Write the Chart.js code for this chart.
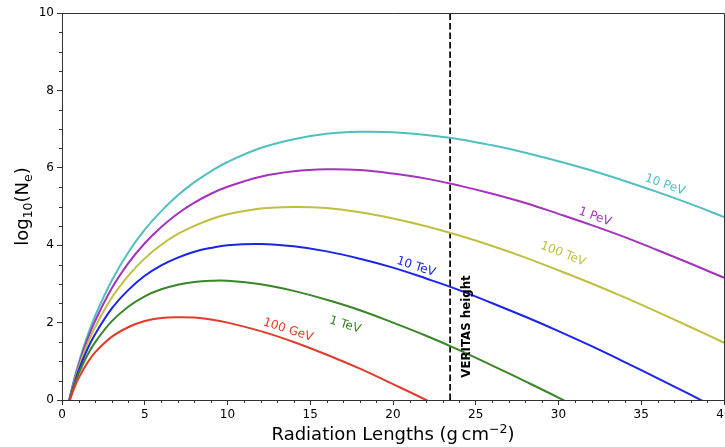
<!DOCTYPE html>
<html>
<head>
<meta charset="utf-8">
<script src="https://cdn.jsdelivr.net/npm/chart.js@4/dist/chart.umd.min.js"></script>
<style>
  html, body { margin: 0; padding: 0; background: #ffffff; }
  #wrap { width: 725px; height: 447px; }
</style>
</head>
<body>
<div id="wrap"><canvas id="c" width="725" height="447"></canvas></div>
<script>
// ---- data ----
const radiationLengths = [0.4, 0.5, 0.75, 1, 1.5, 2, 3, 4, 5, 6, 7, 8, 9, 10, 12, 14, 16, 18, 20, 22, 24, 26, 28, 30, 32, 34, 36, 38, 40];
const energyLabels = ['100 GeV', '1 TeV', '10 TeV', '100 TeV', '1 PeV', '10 PeV'];
const logNe100GeV = [-0.11, 0.03, 0.32, 0.56, 0.94, 1.23, 1.63, 1.88, 2.04, 2.12, 2.14, 2.13, 2.08, 2.00, 1.78, 1.50, 1.17, 0.81, 0.41, 0.00, -0.44, null, null, null, null, null, null, null, null];
const logNe1TeV   = [-0.10, 0.05, 0.39, 0.67, 1.13, 1.49, 2.03, 2.41, 2.68, 2.86, 2.98, 3.05, 3.08, 3.08, 2.99, 2.82, 2.59, 2.32, 2.00, 1.66, 1.29, 0.89, 0.48, 0.06, -0.38, null, null, null, null];
const logNe10TeV  = [-0.09, 0.08, 0.44, 0.76, 1.28, 1.70, 2.36, 2.84, 3.21, 3.48, 3.68, 3.83, 3.93, 4.00, 4.03, 3.97, 3.84, 3.65, 3.42, 3.14, 2.84, 2.50, 2.15, 1.78, 1.39, 0.98, 0.56, 0.13, -0.31];
const logNe100TeV = [-0.08, 0.09, 0.49, 0.83, 1.41, 1.88, 2.64, 3.21, 3.66, 4.01, 4.29, 4.50, 4.67, 4.80, 4.95, 4.99, 4.96, 4.85, 4.69, 4.49, 4.25, 3.98, 3.68, 3.35, 3.01, 2.65, 2.27, 1.88, 1.48];
const logNe1PeV   = [-0.08, 0.11, 0.53, 0.89, 1.52, 2.04, 2.88, 3.53, 4.05, 4.47, 4.82, 5.10, 5.33, 5.51, 5.77, 5.91, 5.96, 5.94, 5.85, 5.72, 5.54, 5.33, 5.09, 4.81, 4.52, 4.21, 3.87, 3.52, 3.16];
const logNe10PeV  = [-0.07, 0.12, 0.56, 0.95, 1.61, 2.17, 3.08, 3.81, 4.40, 4.88, 5.29, 5.63, 5.91, 6.15, 6.51, 6.74, 6.88, 6.93, 6.92, 6.85, 6.74, 6.58, 6.39, 6.17, 5.93, 5.66, 5.37, 5.06, 4.73];
const veritasDepth = 23.45;           // radiation lengths
const labelDepths = [13.66, 17.1, 21.39, 30.27, 32.2, 36.43];   // where each curve's name sits (x)
const labelLogNe  = [1.81, 1.94, 3.44, 3.77, 4.73, 5.56];        // where each curve's name sits (y)
const veritasLabelAt = [24.47, 1.90];
const xMin = 0, xMax = 40, xStep = 5, xMinorStep = 1;
const yMin = 0, yMax = 10, yStep = 2, yMinorStep = 0.5;

// ---- styles ----
const seriesValues = [logNe100GeV, logNe1TeV, logNe10TeV, logNe100TeV, logNe1PeV, logNe10PeV];
const seriesColors = ['#e23b2b', '#3a8527', '#1a24ea', '#bfbf40', '#a532bc', '#50bfbf'];
const FONT = 'DejaVu Sans';
const AXIS = '#333333';

Chart.defaults.font.family = FONT;

const datasets = seriesValues.map((vals, i) => ({
  label: energyLabels[i],
  data: radiationLengths.map((x, j) => ({ x: x, y: vals[j] })),
  borderColor: seriesColors[i],
  backgroundColor: seriesColors[i],
  borderWidth: 2,
  pointRadius: 0,
  fill: false,
  tension: 0.4,
  spanGaps: false
}));
datasets.push({
  label: 'VERITAS height',
  data: [{ x: veritasDepth, y: yMin }, { x: veritasDepth, y: yMax }],
  borderColor: '#000000',
  borderWidth: 1.7,
  borderDash: [6.5, 3],
  pointRadius: 0,
  tension: 0,
  fill: false
});

const decorPlugin = {
  id: 'decor',
  afterDraw(chart) {
    const ctx = chart.ctx;
    const xs = chart.scales.x, ys = chart.scales.y;
    const a = chart.chartArea;
    ctx.save();
    // top & right spines
    ctx.strokeStyle = AXIS;
    ctx.lineWidth = 1;
    ctx.beginPath();
    ctx.moveTo(Math.round(a.left), Math.round(a.top) + 0.5);
    ctx.lineTo(Math.round(a.right) + 0.5, Math.round(a.top) + 0.5);
    ctx.lineTo(Math.round(a.right) + 0.5, Math.round(a.bottom));
    ctx.stroke();
    // minor ticks
    ctx.beginPath();
    for (let v = xMin; v <= xMax + 1e-9; v += xMinorStep) {
      if (Math.abs(v / xStep - Math.round(v / xStep)) < 1e-9) continue;
      const px = Math.round(xs.getPixelForValue(v)) + 0.5;
      ctx.moveTo(px, a.bottom);
      ctx.lineTo(px, a.bottom + 3);
    }
    for (let v = yMin; v <= yMax + 1e-9; v += yMinorStep) {
      if (Math.abs(v / yStep - Math.round(v / yStep)) < 1e-9) continue;
      const py = Math.round(ys.getPixelForValue(v)) + 0.5;
      ctx.moveTo(a.left - 3, py);
      ctx.lineTo(a.left, py);
    }
    ctx.stroke();

    // curve labels, rotated along the curve
    ctx.font = '12px "' + FONT + '"';
    ctx.textAlign = 'center';
    ctx.textBaseline = 'middle';
    energyLabels.forEach((txt, i) => {
      const t = labelDepths[i];
      let k = 0;
      while (k < radiationLengths.length - 2 && radiationLengths[k + 1] <= t) k++;
      const vals = seriesValues[i];
      const x1 = xs.getPixelForValue(radiationLengths[k]), y1 = ys.getPixelForValue(vals[k]);
      const x2 = xs.getPixelForValue(radiationLengths[k + 1]), y2 = ys.getPixelForValue(vals[k + 1]);
      const ang = Math.atan2(y2 - y1, x2 - x1);
      ctx.save();
      ctx.translate(xs.getPixelForValue(t), ys.getPixelForValue(labelLogNe[i]));
      ctx.rotate(ang);
      ctx.fillStyle = seriesColors[i];
      ctx.fillText(txt, 0, 0);
      ctx.restore();
    });

    // VERITAS label
    ctx.save();
    ctx.translate(xs.getPixelForValue(veritasLabelAt[0]), ys.getPixelForValue(veritasLabelAt[1]));
    ctx.rotate(-Math.PI / 2);
    ctx.font = 'bold 11.8px "' + FONT + '"';
    ctx.fillStyle = '#000000';
    ctx.fillText('VERITAS height', 0, 0);
    ctx.restore();

    // axis titles with sub/superscripts
    const big = 18, small = 12.5;
    const drawRich = (parts, cx, baseY) => {
      let total = 0;
      parts.forEach(p => { ctx.font = (p.s || big) + 'px "' + FONT + '"'; total += ctx.measureText(p.t).width; });
      let x = cx - total / 2;
      ctx.textAlign = 'left';
      ctx.textBaseline = 'alphabetic';
      parts.forEach(p => {
        ctx.font = (p.s || big) + 'px "' + FONT + '"';
        ctx.fillText(p.t, x, baseY + (p.dy || 0));
        x += ctx.measureText(p.t).width;
      });
    };
    ctx.fillStyle = '#000000';
    drawRich([
      { t: 'Radiation Lengths (g\u2009cm' },
      { t: '\u22122', s: small, dy: -7 },
      { t: ')' }
    ], (a.left + a.right) / 2, 440);

    ctx.save();
    ctx.translate(28, (a.top + a.bottom) / 2);
    ctx.rotate(-Math.PI / 2);
    drawRich([
      { t: 'log' },
      { t: '10', s: small, dy: 4 },
      { t: '(N' },
      { t: 'e', s: small, dy: 4 },
      { t: ')' }
    ], 0, 0);
    ctx.restore();

    ctx.restore();
  }
};

new Chart(document.getElementById('c'), {
  type: 'line',
  data: { datasets: datasets },
  options: {
    responsive: false,
    devicePixelRatio: 1,
    animation: false,
    layout: { padding: { top: 13, right: 1, left: 0, bottom: 0 } },
    plugins: { legend: { display: false }, tooltip: { enabled: false }, title: { display: false } },
    scales: {
      x: {
        type: 'linear', min: xMin, max: xMax,
        afterFit(s) { s.height = 47; s.paddingLeft = 0; s.paddingRight = 0; },
        ticks: { stepSize: xStep, color: '#000000', font: { size: 12, family: FONT }, padding: 3, maxRotation: 0 },
        grid: { drawOnChartArea: false, drawTicks: true, tickLength: 5, tickColor: AXIS, tickWidth: 1 },
        border: { display: true, color: AXIS, width: 1 }
      },
      y: {
        type: 'linear', min: yMin, max: yMax,
        afterFit(s) { s.width = 62; s.paddingTop = 0; s.paddingBottom = 0; },
        ticks: { stepSize: yStep, color: '#000000', font: { size: 12, family: FONT }, padding: 3 },
        grid: { drawOnChartArea: false, drawTicks: true, tickLength: 5, tickColor: AXIS, tickWidth: 1 },
        border: { display: true, color: AXIS, width: 1 }
      }
    }
  },
  plugins: [decorPlugin]
});
</script>
</body>
</html>
